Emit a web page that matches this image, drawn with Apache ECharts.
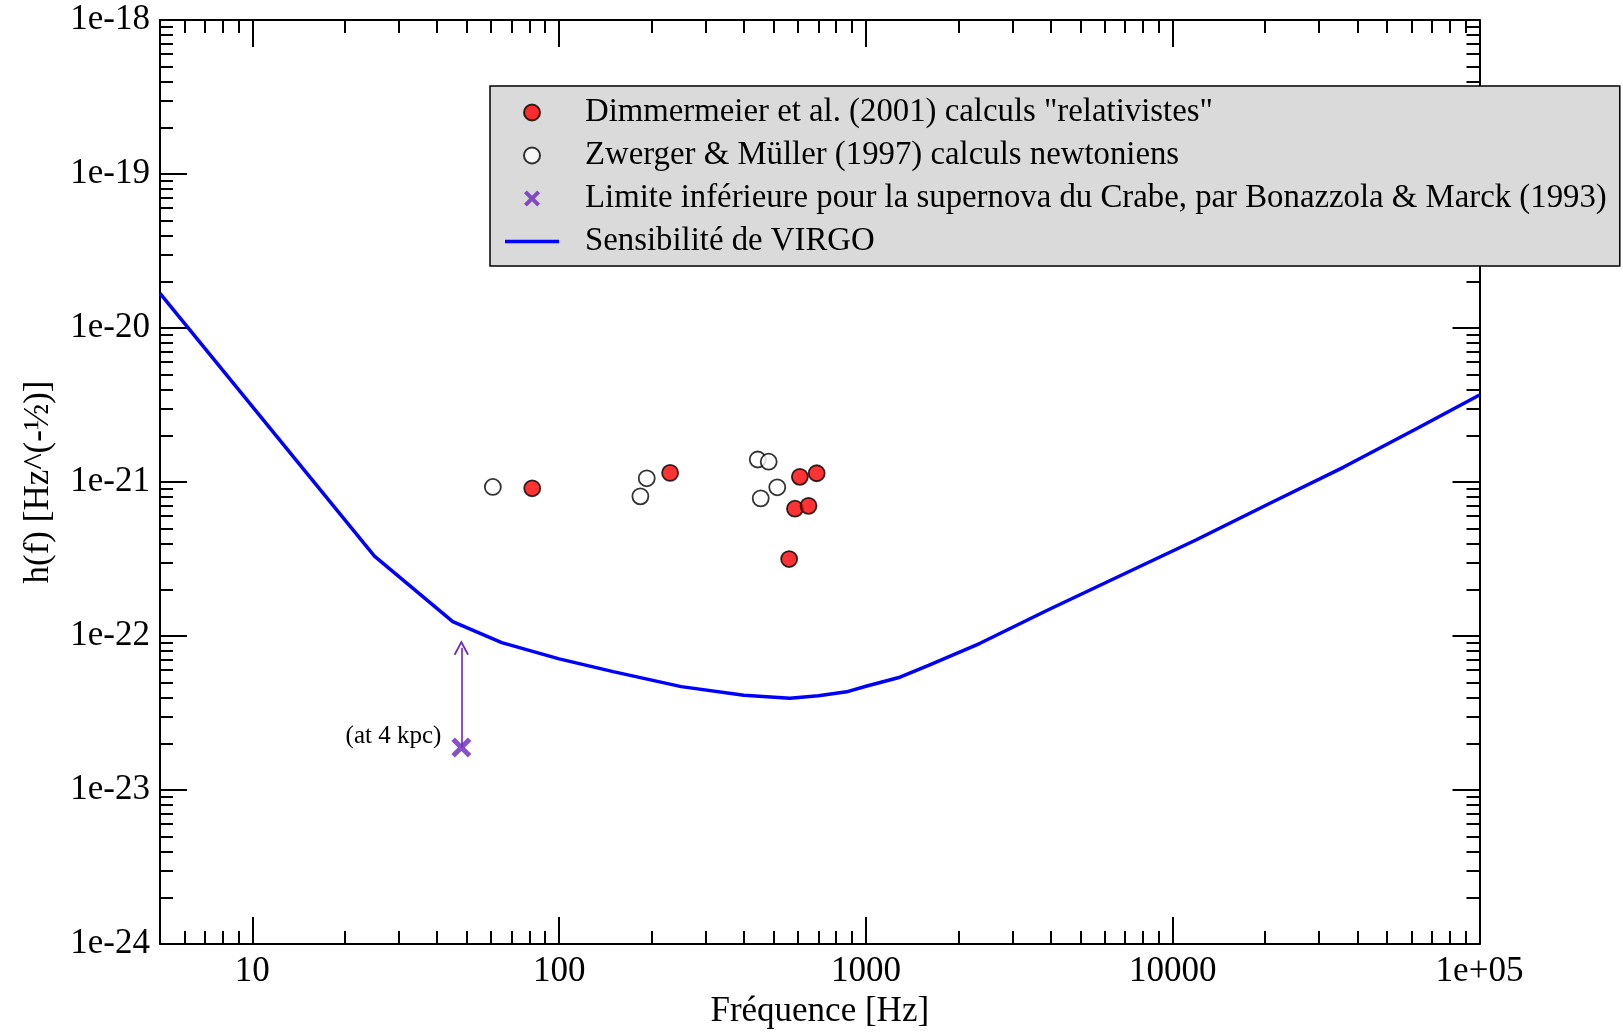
<!DOCTYPE html>
<html>
<head>
<meta charset="utf-8">
<script src="https://cdn.jsdelivr.net/npm/echarts@6/dist/echarts.min.js"></script>
<style>
  html, body { margin: 0; padding: 0; background: #fff; }
  #chart { width: 1623px; height: 1033px; }
</style>
</head>
<body>
<div id="chart"></div>
<script>
// VIRGO sensitivity curve
var virgoFreq = [5, 25, 45, 65, 100, 150, 250, 400, 565, 700, 865, 1000, 1291, 1600, 2355, 3917, 6823, 11900, 20750, 36100, 62950, 100000];
var virgoH = [1.68e-20, 3.3e-22, 1.24e-22, 9.06e-23, 7.1e-23, 5.87e-23, 4.69e-23, 4.12e-23, 3.94e-23, 4.09e-23, 4.34e-23, 4.72e-23, 5.4e-23, 6.45e-23, 8.97e-23, 1.475e-22, 2.49e-22, 4.2e-22, 7.28e-22, 1.25e-21, 2.24e-21, 3.67e-21];

// Dimmermeier et al. (2001)
var dimmFreq = [81.7, 230, 609, 691, 587, 650, 562];
var dimmH = [9.1e-22, 1.146e-21, 1.08e-21, 1.14e-21, 6.71e-22, 7.0e-22, 3.16e-22];

// Zwerger & Muller (1997)
var zwerFreq = [60.8, 193, 184, 444, 482, 514, 454];
var zwerH = [9.29e-22, 1.057e-21, 8.07e-22, 1.40e-21, 1.355e-21, 9.24e-22, 7.83e-22];

// Crab lower limit + arrow
var crabFreq = [48];
var crabH = [1.89e-23];
var crabArrowTop = 8.4e-23;

var xMajor = [10, 100, 1000, 10000, 100000];
var yMajor = [1e-24, 1e-23, 1e-22, 1e-21, 1e-20, 1e-19, 1e-18];

var seriesNames = [
  'Dimmermeier et al. (2001) calculs "relativistes"',
  'Zwerger & Müller (1997) calculs newtoniens',
  'Limite inférieure pour la supernova du Crabe, par Bonazzola & Marck (1993)',
  'Sensibilité de VIRGO'
];

(function() {
  var font = "'Liberation Serif', 'DejaVu Serif', serif";
  var purple = '#6c24c2';
  var crossPath = 'path://M3.5,0 L10,6.5 L16.5,0 L20,3.5 L13.5,10 L20,16.5 L16.5,20 L10,13.5 L3.5,20 L0,16.5 L6.5,10 L0,3.5 Z';
  var headPath = 'path://M0,12 L7,0 L14,12 L12.6,12.8 L7,3.2 L1.4,12.8 Z';
  var lineIcon = 'path://M0,0 L54,0 L54,3.5 L0,3.5 Z';

  function pairs(xs, ys) {
    return xs.map(function(x, i) { return [x, ys[i]]; });
  }
  function minors(e0, e1, lo) {
    var out = [];
    for (var e = e0; e < e1; e++) {
      for (var k = 2; k <= 9; k++) {
        var v = +(k * Math.pow(10, e)).toPrecision(3);
        if (v > lo) out.push(v);
      }
    }
    return out;
  }
  var xMinor = minors(0, 5, 5);
  var yMinor = minors(-24, -18, 0);

  var tickLine = { color: '#000', width: 2 };

  function axis(kind, pos, ticks, len, showLine, labels) {
    var a = {
      type: 'log', logBase: 10, position: pos,
      min: kind === 'x' ? 5 : 1e-24,
      max: kind === 'x' ? 1e5 : 1e-18,
      axisLine: { show: showLine, onZero: false, lineStyle: { color: '#000', width: 2 } },
      axisTick: { show: true, inside: true, length: len, customValues: ticks, lineStyle: tickLine },
      axisLabel: { show: false },
      splitLine: { show: false },
      minorTick: { show: false },
      axisPointer: { show: false }
    };
    if (labels) {
      a.axisLabel = {
        show: true, customValues: ticks, margin: 10,
        fontFamily: font, fontSize: 35, color: '#000',
        formatter: kind === 'x'
          ? function(v) { return v >= 99999 ? '1e+05' : String(Math.round(v)); }
          : function(v) { return '1e' + Math.round(Math.log10(v)); }
      };
    }
    return a;
  }

  var xBottom = axis('x', 'bottom', xMajor, 27, true, true);
  xBottom.name = 'Fréquence [Hz]';
  xBottom.nameLocation = 'middle';
  xBottom.nameGap = 46;
  xBottom.nameTextStyle = { fontFamily: font, fontSize: 35, color: '#000' };

  var yLeft = axis('y', 'left', yMajor, 27, true, true);
  yLeft.name = 'h(f) [Hz^(-½)]';
  yLeft.nameLocation = 'middle';
  yLeft.nameGap = 104;
  yLeft.nameTextStyle = { fontFamily: font, fontSize: 35, color: '#000' };

  var chart = echarts.init(document.getElementById('chart'));
  chart.setOption({
    animation: false,
    backgroundColor: '#fff',
    grid: { left: 160, right: 143.5, top: 20, bottom: 89, containLabel: false, outerBoundsMode: 'none' },
    legend: {
      orient: 'vertical', left: 490, top: 86,
      backgroundColor: '#dadada', borderColor: '#000', borderWidth: 1.5, borderRadius: 0,
      padding: [10, 13, 8, 15], itemGap: 10, itemWidth: 54, itemHeight: 16,
      selectedMode: false,
      textStyle: { fontFamily: font, fontSize: 32.8, lineHeight: 33, color: '#000', padding: [0, 0, 0, 21] },
      data: [
        seriesNames[0],
        seriesNames[1],
        seriesNames[2],
        { name: seriesNames[3], icon: lineIcon }
      ]
    },
    xAxis: [
      xBottom,
      axis('x', 'bottom', xMinor, 13, false, false),
      axis('x', 'top', xMajor, 27, true, false),
      axis('x', 'top', xMinor, 13, false, false)
    ],
    yAxis: [
      yLeft,
      axis('y', 'left', yMinor, 13, false, false),
      axis('y', 'right', yMajor, 27, true, false),
      axis('y', 'right', yMinor, 13, false, false)
    ],
    series: [
      {
        name: seriesNames[0], type: 'scatter', xAxisIndex: 0, yAxisIndex: 0,
        symbol: 'circle', symbolSize: 16, z: 4,
        itemStyle: { color: '#ff0000', borderColor: '#000', borderWidth: 1.8 },
        data: pairs(dimmFreq, dimmH)
      },
      {
        name: seriesNames[1], type: 'scatter', xAxisIndex: 0, yAxisIndex: 0,
        symbol: 'circle', symbolSize: 16, z: 3,
        itemStyle: { color: '#ffffff', borderColor: '#000', borderWidth: 1.8 },
        data: pairs(zwerFreq, zwerH)
      },
      {
        name: seriesNames[2], type: 'scatter', xAxisIndex: 0, yAxisIndex: 0,
        symbol: crossPath, symbolSize: 20, z: 5,
        itemStyle: { color: purple },
        label: {
          show: true, position: 'left', distance: 10, offset: [0, -11],
          formatter: '(at 4 kpc)', fontFamily: font, fontSize: 25, color: '#000',
          textBorderWidth: 0, opacity: 1
        },
        markLine: {
          silent: true, animation: false,
          symbol: ['none', headPath], symbolSize: 15,
          lineStyle: { color: purple, width: 1.6, type: 'solid' },
          label: { show: false },
          emphasis: { disabled: true },
          data: [[{ coord: [crabFreq[0], crabH[0]] }, { coord: [crabFreq[0], crabArrowTop] }]]
        },
        data: pairs(crabFreq, crabH)
      },
      {
        name: seriesNames[3], type: 'line', xAxisIndex: 0, yAxisIndex: 0,
        symbol: 'none', smooth: false, z: 2,
        lineStyle: { color: '#0000ff', width: 3.5 },
        itemStyle: { color: '#0000ff' },
        data: pairs(virgoFreq, virgoH)
      }
    ]
  });
  window.addEventListener('resize', function() { chart.resize(); });
})();
</script>
</body>
</html>
